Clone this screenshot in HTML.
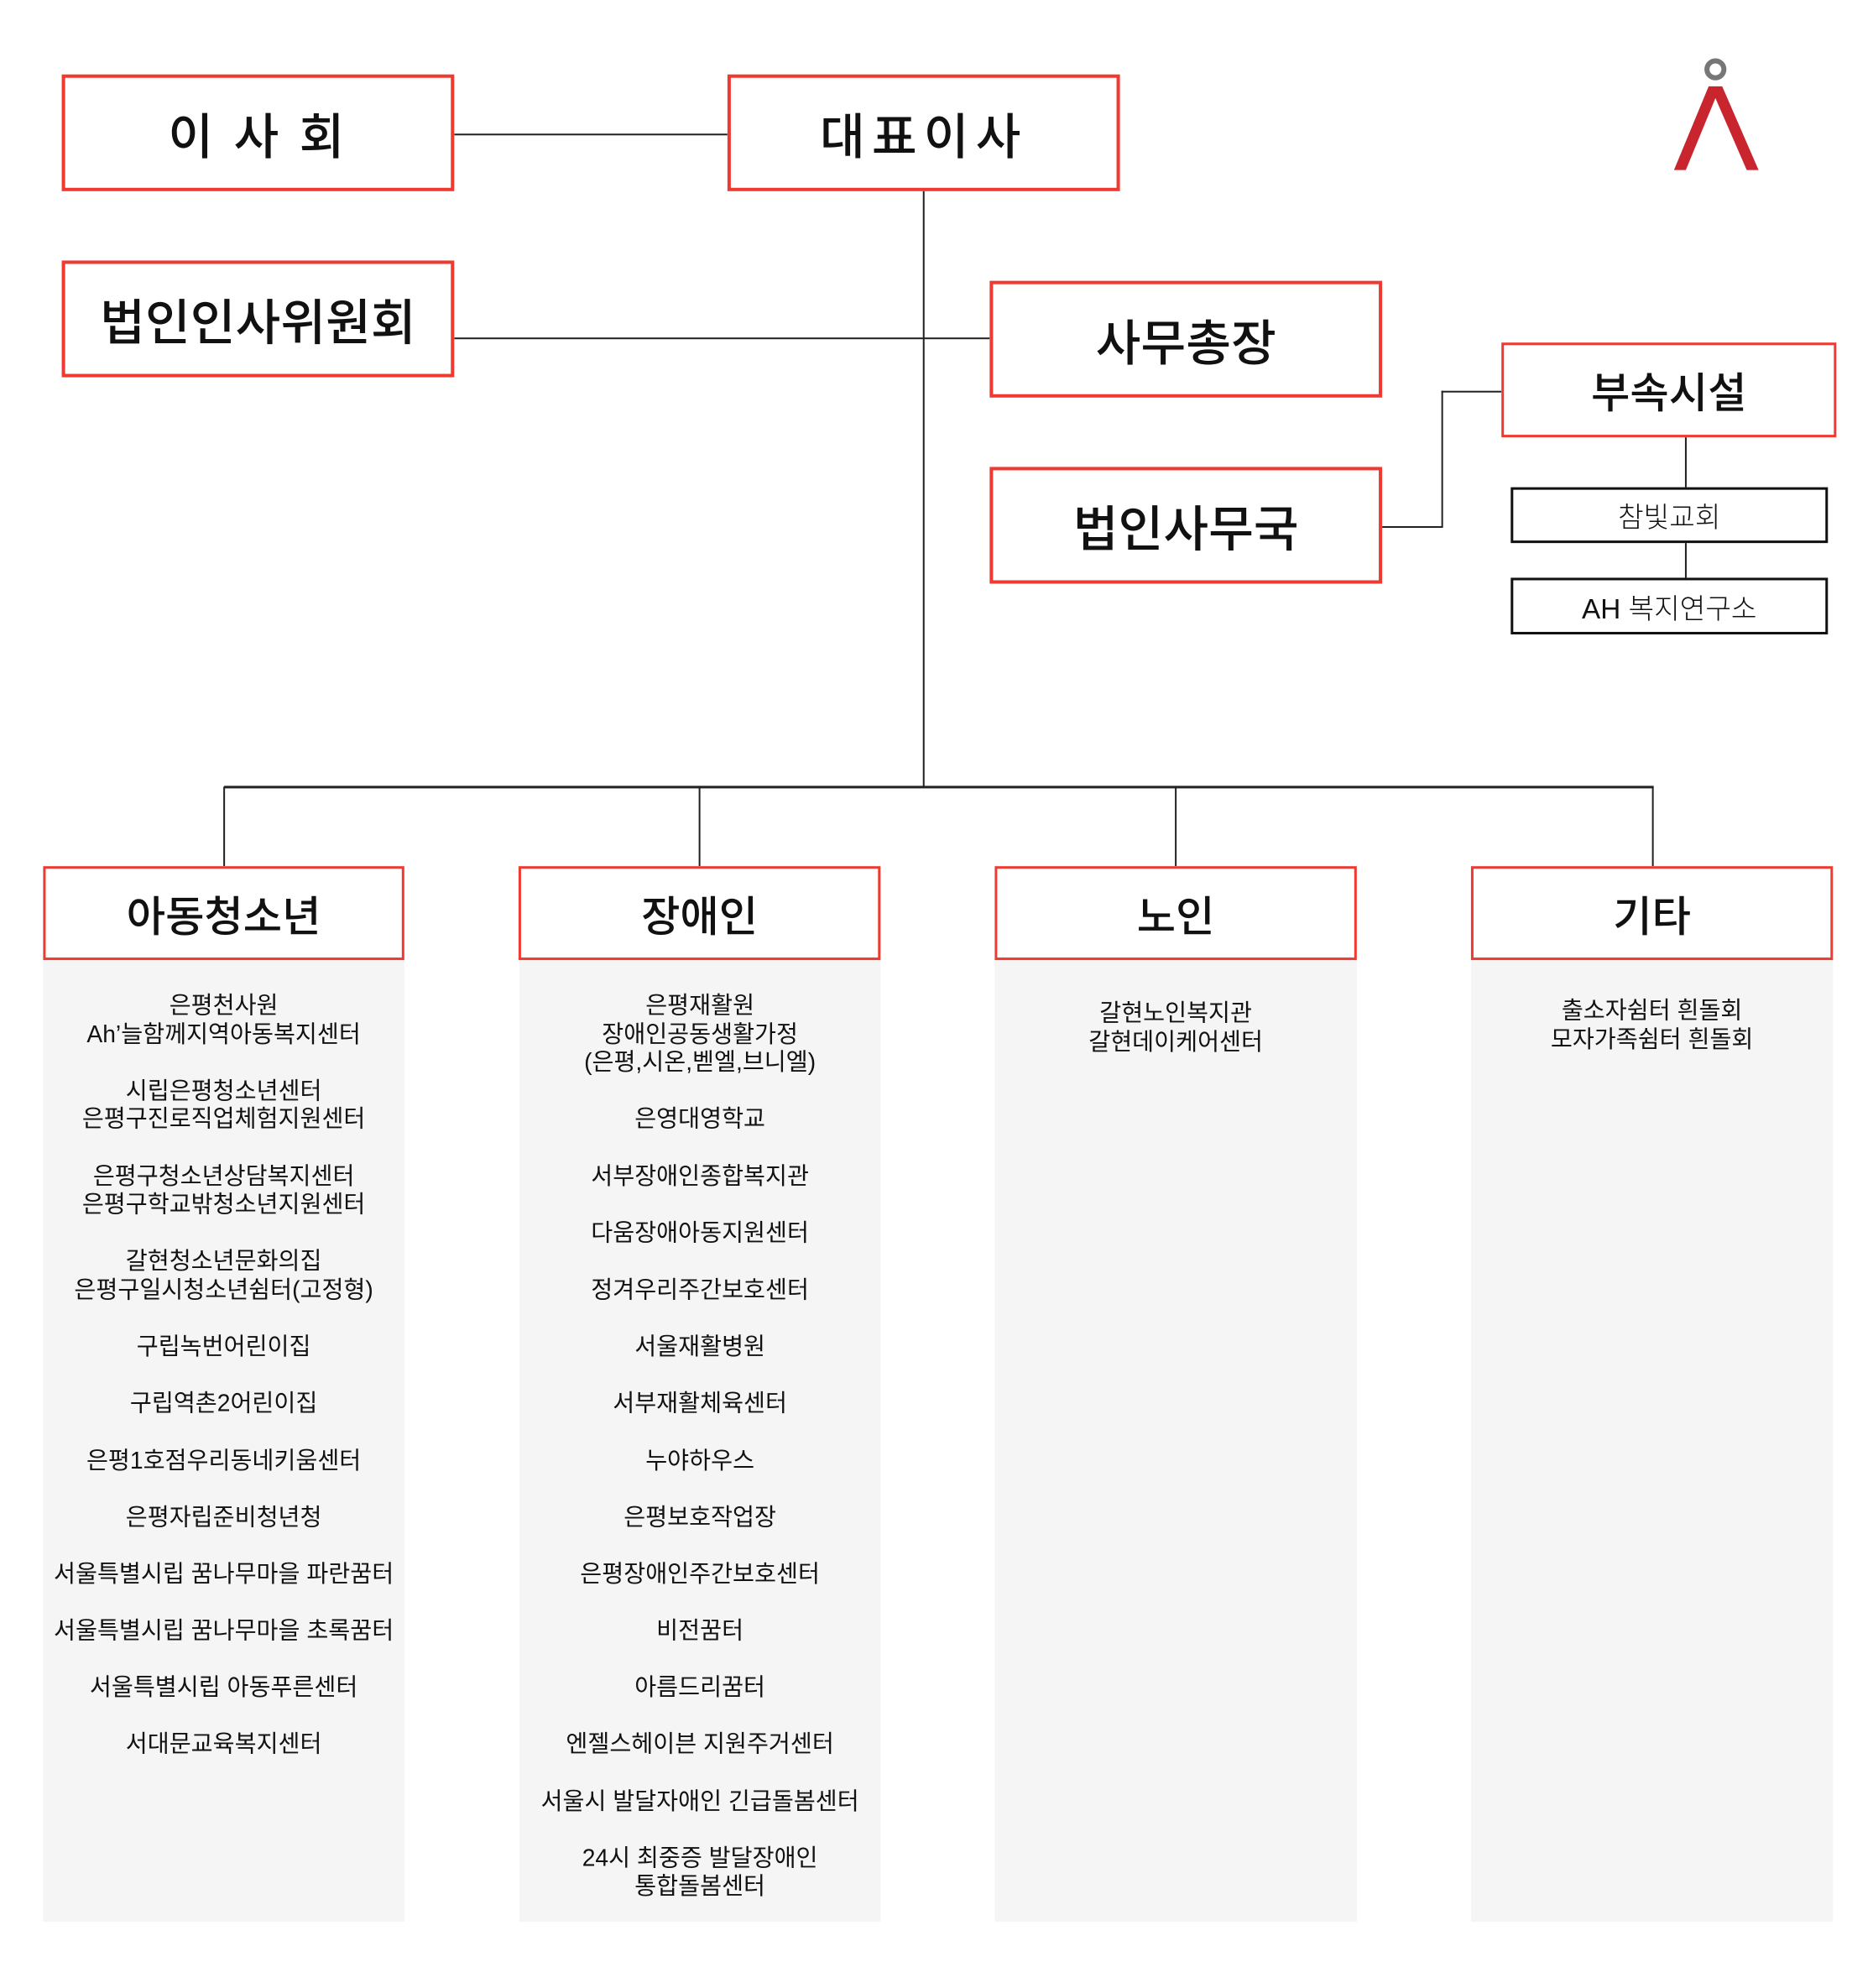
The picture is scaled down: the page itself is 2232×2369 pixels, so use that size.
<!DOCTYPE html>
<html><head><meta charset="utf-8"><style>
html,body{margin:0;padding:0;background:#fff;}
body{width:2232px;height:2350px;position:relative;overflow:hidden;font-family:"Liberation Sans","Noto Sans CJK KR",sans-serif;color:#111;}
#w{position:absolute;left:0;top:0;width:2232px;height:2350px;transform:scale(1.008);transform-origin:0 0;}
.b{position:absolute;box-sizing:border-box;border:4px solid #ee3a30;background:#fff;display:flex;align-items:center;justify-content:center;}
.t{font-size:58px;font-weight:500;}
.c{font-size:50px;font-weight:500;border-width:3px;}
.s{position:absolute;box-sizing:border-box;border:3px solid #111;background:#fff;display:flex;align-items:center;justify-content:center;font-size:33px;font-weight:300;}
.l{position:absolute;background:#222;}
.p{position:absolute;background:#f5f5f5;top:1134px;height:1138px;}
.list{position:absolute;text-align:center;white-space:pre-line;font-size:28px;line-height:33.6px;}
</style></head><body><div id="w">

<div class="l" style="left:537px;top:158px;width:323px;height:2px"></div>
<div class="l" style="left:1091px;top:225px;width:2px;height:706px"></div>
<div class="l" style="left:537px;top:399px;width:633px;height:2px"></div>
<div class="l" style="left:1634px;top:622px;width:71px;height:2px"></div>
<div class="l" style="left:1704px;top:462px;width:2px;height:162px"></div>
<div class="l" style="left:1704px;top:462px;width:71px;height:2px"></div>
<div class="l" style="left:1992px;top:516px;width:2px;height:60px"></div>
<div class="l" style="left:1992px;top:641px;width:2px;height:42px"></div>
<div class="l" style="left:265px;top:929px;width:1690px;height:3px"></div>
<div class="l" style="left:264px;top:930px;width:2px;height:94px"></div>
<div class="l" style="left:826px;top:930px;width:2px;height:94px"></div>
<div class="l" style="left:1389px;top:930px;width:2px;height:94px"></div>
<div class="l" style="left:1953px;top:930px;width:2px;height:94px"></div>

<div class="b t" style="left:73px;top:88px;width:464px;height:138px;letter-spacing:4px">이&nbsp;사&nbsp;회</div>
<div class="b t" style="left:860px;top:88px;width:464px;height:138px;letter-spacing:8px">대표이사</div>
<div class="b t" style="left:73px;top:308px;width:464px;height:138px">법인인사위원회</div>
<div class="b t" style="left:1170px;top:332px;width:464px;height:138px">사무총장</div>
<div class="b t" style="left:1170px;top:552px;width:464px;height:138px">법인사무국</div>
<div class="b" style="left:1775px;top:405px;width:396px;height:112px;border-width:3px;font-size:50px;font-weight:500">부속시설</div>
<div class="s" style="left:1786px;top:576px;width:375px;height:66px">참빛교회</div>
<div class="s" style="left:1786px;top:683px;width:375px;height:67px">AH 복지연구소</div>

<svg style="position:absolute;left:1975px;top:66px" width="110" height="140" viewBox="0 0 110 140">
<circle cx="53" cy="16" r="10" fill="none" stroke="#777" stroke-width="6"/>
<polygon points="45,36 61,36 104,135 90,135 53,50 18,135 4,135" fill="#c8252e"/>
</svg>

<div class="p" style="left:51px;width:427px"></div>
<div class="p" style="left:614px;width:427px"></div>
<div class="p" style="left:1176px;width:428px"></div>
<div class="p" style="left:1739px;width:428px"></div>

<div class="b c" style="left:51px;top:1024px;width:427px;height:111px">아동청소년</div>
<div class="b c" style="left:613px;top:1024px;width:428px;height:111px">장애인</div>
<div class="b c" style="left:1176px;top:1024px;width:428px;height:111px">노인</div>
<div class="b c" style="left:1739px;top:1024px;width:428px;height:111px">기타</div>

<div class="list" style="left:51px;width:427px;top:1172px">은평천사원
Ah’늘함께지역아동복지센터

시립은평청소년센터
은평구진로직업체험지원센터

은평구청소년상담복지센터
은평구학교밖청소년지원센터

갈현청소년문화의집
은평구일시청소년쉼터(고정형)

구립녹번어린이집

구립역촌2어린이집

은평1호점우리동네키움센터

은평자립준비청년청

서울특별시립 꿈나무마을 파란꿈터

서울특별시립 꿈나무마을 초록꿈터

서울특별시립 아동푸른센터

서대문교육복지센터</div>

<div class="list" style="left:614px;width:427px;top:1172px">은평재활원
장애인공동생활가정
(은평,시온,벧엘,브니엘)

은영대영학교

서부장애인종합복지관

다움장애아동지원센터

정겨우리주간보호센터

서울재활병원

서부재활체육센터

누야하우스

은평보호작업장

은평장애인주간보호센터

비전꿈터

아름드리꿈터

엔젤스헤이븐 지원주거센터

서울시 발달자애인 긴급돌봄센터

24시 최중증 발달장애인
통합돌봄센터</div>

<div class="list" style="left:1176px;width:428px;top:1181px">갈현노인복지관
갈현데이케어센터</div>

<div class="list" style="left:1739px;width:428px;top:1178px">출소자쉼터 흰돌회
모자가족쉼터 흰돌회</div>

</div></body></html>
